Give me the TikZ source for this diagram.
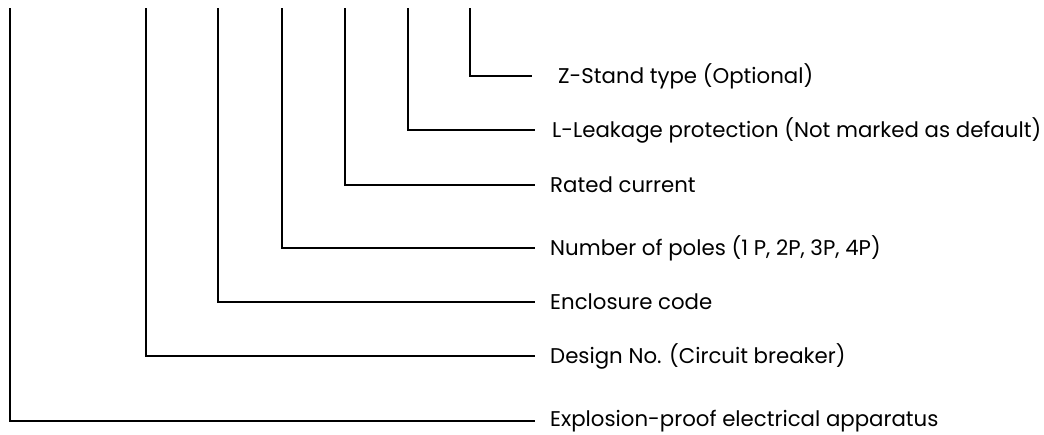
\documentclass[tikz,border=0pt]{standalone}
\usepackage{fontspec}
\setmainfont{Poppins}
\usetikzlibrary{positioning}

\begin{document}
\begin{tikzpicture}[x=1pt, y=-1pt,
    lbl/.style={anchor=west, inner xsep=15pt, inner ysep=0pt,
        font=\fontsize{21.3}{24}\selectfont},
    lead/.style={line width=1.4pt}]
    \useasboundingbox (0,0) rectangle (1044,434);

    % Labels, one per code position
    \node[lbl, inner xsep=26pt] (stand) at (532,76) {Z-Stand type (Optional)};
    \node[lbl, inner xsep=17pt] (leak) at (535,130) {L-Leakage protection (Not marked as default)};
    \node[lbl] (current) at (535,185) {Rated current};
    \node[lbl] (poles) at (535,248) {Number of poles (1 P, 2P, 3P, 4P)};
    \node[lbl] (encl) at (535,302) {Enclosure code};
    \node[lbl] (design) at (535,356) {Design No. (Circuit breaker)};
    \node[lbl] (exd) at (535,421) {Explosion-proof electrical apparatus};

    % Tops of the leader lines
    \coordinate (t1) at (10,8);
    \coordinate (t2) at (146,8);
    \coordinate (t3) at (218,8);
    \coordinate (t4) at (282,8);
    \coordinate (t5) at (345,8);
    \coordinate (t6) at (408,8);
    \coordinate (t7) at (470,8);

    % Leader lines
    \foreach \top/\lab in {t1/exd, t2/design, t3/encl, t4/poles,
                            t5/current, t6/leak, t7/stand}
        \draw[lead] (\top) |- (\lab.west);
\end{tikzpicture}
\end{document}
